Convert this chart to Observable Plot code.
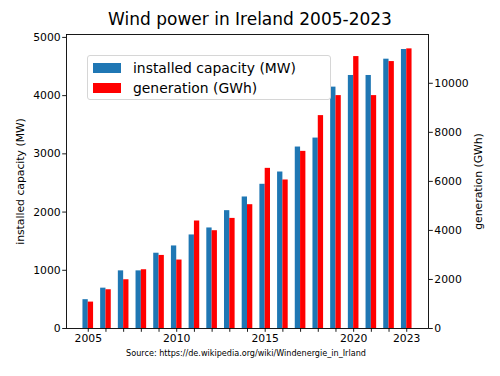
<!DOCTYPE html>
<html>
<head>
<meta charset="utf-8">
<script src="https://cdn.jsdelivr.net/npm/d3@7"></script>
<script src="https://cdn.jsdelivr.net/npm/@observablehq/plot@0.6"></script>
<style>
  html, body { margin: 0; padding: 0; background: #fff; }
  #wrap { position: relative; width: 500px; height: 376px; font-family: "DejaVu Sans", sans-serif; color: #000; overflow: hidden; }
  #title { position: absolute; left: 0; width: 500px; top: 9px; text-align: center; font-size: 17px; line-height: 20px; }
  #caption { position: absolute; left: 0; width: 492px; top: 348px; text-align: center; font-size: 8.1px; line-height: 10px; }
  #legend { position: absolute; left: 87px; top: 55px; width: 242px; height: 43px; border: 1px solid #d6d6d6; border-radius: 3px; background: rgba(255,255,255,0.85); }
  .entry { position: absolute; left: 5px; height: 16px; font-size: 13.9px; line-height: 16px; white-space: nowrap; }
  .sw { position: absolute; left: 0; top: 3px; width: 28px; height: 10px; }
  .lab { position: absolute; left: 40px; top: 0; }
  #plot svg { position: absolute; left: 0; top: 0; }
</style>
</head>
<body>
<div id="wrap">
  <div id="plot"></div>
  <div id="title">Wind power in Ireland 2005-2023</div>
  <div id="legend"></div>
  <div id="caption">Source: https://de.wikipedia.org/wiki/Windenergie_in_Irland</div>
</div>
<script>
const years = [2005, 2006, 2007, 2008, 2009, 2010, 2011, 2012, 2013, 2014, 2015, 2016, 2017, 2018, 2019, 2020, 2021, 2022, 2023];
const capacity = [495, 693, 990, 990, 1293, 1418, 1607, 1727, 2024, 2259, 2477, 2688, 3117, 3271, 4146, 4346, 4346, 4626, 4792];
const generation = [1077, 1580, 1988, 2396, 2980, 2792, 4384, 3988, 4490, 5049, 6531, 6057, 7224, 8682, 9498, 11090, 9498, 10886, 11404];
const labelYears = [2005, 2010, 2015, 2020, 2023];
const leftTicks = [0, 1000, 2000, 3000, 4000, 5000];
const rightTicks = [0, 2000, 4000, 6000, 8000, 10000];
const seriesNames = ["installed capacity (MW)", "generation (GWh)"];
const seriesColors = ["#1f77b4", "#ff0000"];

const leftMax = 5050;
const rightMax = 11990;
const k = leftMax / rightMax;
const barW = 0.3;

const data = years.map((y, i) => ({year: y, cap: capacity[i], gen: generation[i]}));

const chart = Plot.plot({
  width: 500,
  height: 376,
  marginTop: 34,
  marginBottom: 48,
  marginLeft: 66,
  marginRight: 72,
  style: {fontFamily: "DejaVu Sans, sans-serif", fontSize: "10.8px", color: "#000", background: "transparent"},
  x: {domain: [2003.77, 2024.23]},
  y: {domain: [0, leftMax]},
  marks: [
    Plot.rectY(data, {x1: d => d.year - barW, x2: d => d.year, y1: 0, y2: "cap", fill: seriesColors[0], insetLeft: 0, insetRight: 0}),
    Plot.rectY(data, {x1: d => d.year, x2: d => d.year + barW, y1: 0, y2: d => d.gen * k, fill: seriesColors[1], insetLeft: 0, insetRight: 0}),
    Plot.frame({stroke: "#000", strokeWidth: 0.9}),
    Plot.axisX({ticks: years, tickFormat: d => labelYears.includes(d) ? String(d) : "", tickSize: 3.8, tickPadding: 2, label: null, fontSize: 10.8, stroke: "#000", strokeWidth: 0.9}),
    Plot.axisY({anchor: "left", ticks: leftTicks, tickFormat: d => String(d), tickSize: 3.8, tickPadding: 2, label: null, fontSize: 10.8, strokeWidth: 0.9}),
    Plot.axisY({anchor: "right", ticks: rightTicks.map(t => t * k), tickFormat: d => String(Math.round(d / k)), tickSize: 3.8, tickPadding: 2, label: null, fontSize: 10.8, strokeWidth: 0.9}),
    Plot.text([seriesNames[0]], {frameAnchor: "left", text: d => d, rotate: -90, textAnchor: "middle", dx: -45.5, fontSize: 10.8, fill: "#000"}),
    Plot.text([seriesNames[1]], {frameAnchor: "right", text: d => d, rotate: -90, textAnchor: "middle", dx: 50, fontSize: 10.8, fill: "#000"})
  ]
});
document.getElementById("plot").appendChild(chart);

const legend = document.getElementById("legend");
seriesNames.forEach((name, i) => {
  const e = document.createElement("div");
  e.className = "entry";
  e.style.top = (4 + i * 20) + "px";
  e.innerHTML = `<div class="sw" style="background:${seriesColors[i]}"></div><div class="lab">${name}</div>`;
  legend.appendChild(e);
});
</script>
</body>
</html>
